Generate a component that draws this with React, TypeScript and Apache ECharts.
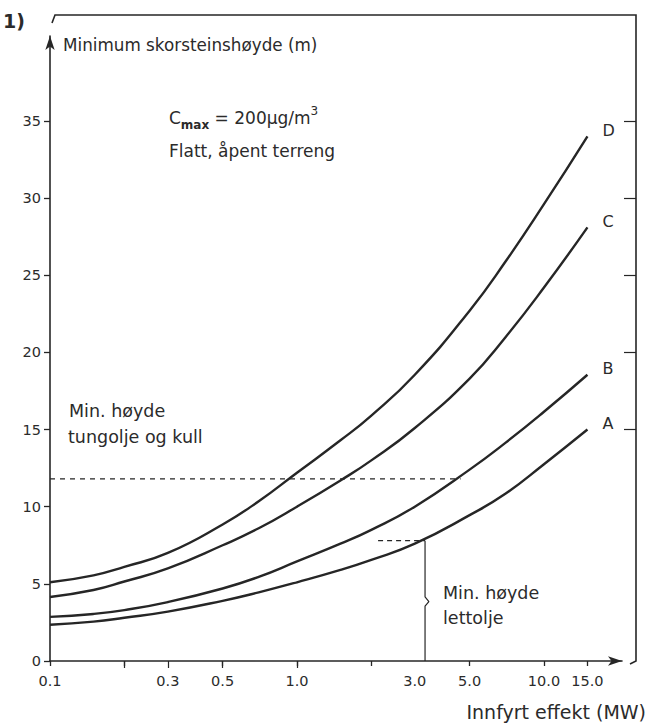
import React, { useEffect, useRef } from "react";
import * as echarts from "echarts";

// Innfyrt effekt (MW) sample points
const xValues = [0.1, 0.15, 0.2, 0.3, 0.5, 0.7, 1.0, 1.5, 2.0, 3.0, 5.0, 7.0, 10.0, 15.0];
// Minimum skorsteinshøyde (m) per curve
const curveA = [2.35, 2.55, 2.8, 3.2, 3.9, 4.45, 5.1, 5.9, 6.55, 7.6, 9.45, 10.85, 12.75, 15.0];
const curveB = [2.86, 3.05, 3.3, 3.82, 4.7, 5.45, 6.45, 7.6, 8.5, 10.0, 12.4, 14.15, 16.15, 18.55];
const curveC = [4.15, 4.6, 5.15, 6.0, 7.5, 8.6, 10.0, 11.7, 13.0, 15.1, 18.3, 21.0, 24.2, 28.1];
const curveD = [5.1, 5.55, 6.1, 7.0, 8.85, 10.35, 12.2, 14.3, 15.9, 18.55, 22.7, 25.9, 29.6, 34.0];
const curveNames = ["A", "B", "C", "D"];

const xLabelValues = [0.1, 0.3, 0.5, 1, 3, 5, 10, 15];
const xTickValues = [0.1, 0.2, 0.5, 1, 2, 5, 10, 15];
const xTopTickValues = [0.2, 0.3, 0.5, 1];
const yTickValues = [0, 5, 10, 15, 20, 25, 30, 35];
const yRightTickValues = [15, 20, 25, 30, 35];

// Min. høyde tungolje og kull
const heavyOilLevel = 11.8;
const heavyOilRange = [0.1, 4.6];
// Min. høyde lettolje
const lightOilLevel = 7.8;
const lightOilX = 3.3;
const lightOilDashStart = 2.13;
const braceX = 3.42;
const braceY = [3.55, 3.85, 4.15];

const X_MIN = 0.1;
const X_MAX = 20.7;
const Y_MAX = 40.5;

const INK = "#262626";
const TEXT = "#2b2b2b";
const FONT = "DejaVu Sans";

export default function App() {
  const ref = useRef<HTMLDivElement>(null);

  useEffect(() => {
    document.body.style.margin = "0";
    if (!ref.current) return;
    const chart = echarts.init(ref.current, undefined, { renderer: "svg" });
    const curves = [curveA, curveB, curveC, curveD];

    const curveSeries = curves.map((vals, i) => ({
      name: curveNames[i],
      type: "line",
      data: xValues.map((x, j) => [x, vals[j]]),
      smooth: 0.5,
      showSymbol: false,
      symbol: "none",
      silent: true,
      lineStyle: { color: INK, width: 2.4 },
      endLabel: {
        show: true,
        formatter: "{a}",
        color: TEXT,
        fontSize: 16,
        fontFamily: FONT,
        offset: [7, -6],
      },
    }));

    const option: any = {
      animation: false,
      backgroundColor: "#ffffff",
      textStyle: { fontFamily: FONT },
      grid: { left: 50, right: 28, top: 36, bottom: 64, containLabel: false },
      xAxis: [
        {
          type: "log",
          logBase: 10,
          min: X_MIN,
          max: X_MAX,
          axisLine: {
            show: true,
            onZero: false,
            symbol: ["none", "arrow"],
            symbolSize: [7, 14],
            lineStyle: { color: INK, width: 1.6 },
          },
          axisTick: {
            show: true,
            customValues: xTickValues,
            length: 5,
            lineStyle: { color: INK, width: 1.3 },
          },
          minorTick: { show: false },
          axisLabel: {
            customValues: xLabelValues,
            formatter: (v: number) => v.toFixed(1),
            color: TEXT,
            fontSize: 14.5,
            fontFamily: FONT,
            margin: 12,
          },
          splitLine: { show: false },
        },
        {
          type: "log",
          logBase: 10,
          min: X_MIN,
          max: X_MAX,
          position: "top",
          offset: 21,
          axisLine: { show: false },
          axisTick: {
            show: true,
            inside: true,
            customValues: xTopTickValues,
            length: 7,
            lineStyle: { color: INK, width: 1.2 },
          },
          axisLabel: { show: false },
          splitLine: { show: false },
        },
      ],
      yAxis: [
        {
          type: "value",
          min: 0,
          max: Y_MAX,
          axisLine: {
            show: true,
            onZero: false,
            symbol: ["none", "arrow"],
            symbolSize: [7, 14],
            lineStyle: { color: INK, width: 1.6 },
          },
          axisTick: {
            show: true,
            customValues: yTickValues,
            length: 6,
            lineStyle: { color: INK, width: 1.3 },
          },
          axisLabel: {
            customValues: yTickValues,
            color: TEXT,
            fontSize: 14.5,
            fontFamily: FONT,
            margin: 9,
          },
          splitLine: { show: false },
        },
        {
          type: "value",
          min: 0,
          max: Y_MAX,
          position: "right",
          offset: 14,
          axisLine: { show: false },
          axisTick: {
            show: true,
            inside: true,
            customValues: yRightTickValues,
            length: 12,
            lineStyle: { color: INK, width: 1.2 },
          },
          axisLabel: { show: false },
          splitLine: { show: false },
        },
      ],
      series: [
        ...curveSeries,
        {
          name: "tungolje",
          type: "line",
          data: heavyOilRange.map((x) => [x, heavyOilLevel]),
          showSymbol: false,
          symbol: "none",
          silent: true,
          lineStyle: { color: INK, width: 1.1, type: [5, 5] },
        },
        {
          name: "lettolje-dash",
          type: "line",
          data: [
            [lightOilDashStart, lightOilLevel],
            [lightOilX, lightOilLevel],
          ],
          showSymbol: false,
          symbol: "none",
          silent: true,
          lineStyle: { color: INK, width: 1.1, type: [5, 4] },
        },
        {
          name: "lettolje",
          type: "line",
          data: [
            [lightOilX, lightOilLevel],
            [lightOilX, braceY[2]],
            [braceX, braceY[1]],
            [lightOilX, braceY[0]],
            [lightOilX, 0],
          ],
          showSymbol: false,
          symbol: "none",
          silent: true,
          lineStyle: { color: INK, width: 1.2 },
        },
      ],
      graphic: [
        {
          type: "polyline",
          silent: true,
          shape: {
            points: [
              [52, 23],
              [55, 15],
              [636, 15],
              [636, 661],
              [630, 664],
            ],
          },
          style: { stroke: INK, lineWidth: 1.6, fill: "none" },
        },
        {
          type: "text",
          left: 3,
          top: 11,
          silent: true,
          style: { text: "1)", fontSize: 19, fontWeight: "bold", fill: TEXT, fontFamily: FONT },
        },
        {
          type: "text",
          x: 63,
          y: 45,
          silent: true,
          style: {
            text: "Minimum skorsteinshøyde (m)",
            fontSize: 16.8,
            fill: TEXT,
            fontFamily: FONT,
            verticalAlign: "middle",
          },
        },
        {
          type: "text",
          x: 169,
          y: 118,
          silent: true,
          style: {
            text: "{c|C}{sub|max}{c| = 200µg/m}{sup|3}",
            fill: TEXT,
            fontFamily: FONT,
            verticalAlign: "middle",
            rich: {
              c: { fontSize: 17, fontFamily: FONT, fill: TEXT, lineHeight: 26, verticalAlign: "middle" },
              sub: { fontSize: 12, fontFamily: FONT, fill: TEXT, fontWeight: "bold", lineHeight: 26, verticalAlign: "bottom" },
              sup: { fontSize: 12, fontFamily: FONT, fill: TEXT, lineHeight: 26, verticalAlign: "top" },
            },
          },
        },
        {
          type: "text",
          x: 169,
          y: 151,
          silent: true,
          style: { text: "Flatt, åpent terreng", fontSize: 17, fill: TEXT, fontFamily: FONT, verticalAlign: "middle" },
        },
        {
          type: "text",
          x: 69,
          y: 411,
          silent: true,
          style: { text: "Min. høyde", fontSize: 17.5, fill: TEXT, fontFamily: FONT, verticalAlign: "middle" },
        },
        {
          type: "text",
          x: 68,
          y: 437,
          silent: true,
          style: { text: "tungolje og kull", fontSize: 17.5, fill: TEXT, fontFamily: FONT, verticalAlign: "middle" },
        },
        {
          type: "text",
          x: 443,
          y: 593,
          silent: true,
          style: { text: "Min. høyde", fontSize: 17.5, fill: TEXT, fontFamily: FONT, verticalAlign: "middle" },
        },
        {
          type: "text",
          x: 443,
          y: 618,
          silent: true,
          style: { text: "lettolje", fontSize: 17.5, fill: TEXT, fontFamily: FONT, verticalAlign: "middle" },
        },
        {
          type: "text",
          x: 646,
          y: 712,
          silent: true,
          style: {
            text: "Innfyrt effekt (MW)",
            fontSize: 19,
            fill: TEXT,
            fontFamily: FONT,
            align: "right",
            verticalAlign: "middle",
          },
        },
      ],
    };

    chart.setOption(option);
    return () => {
      chart.dispose();
    };
  }, []);

  return <div ref={ref} style={{ width: 650, height: 725 }} />;
}
